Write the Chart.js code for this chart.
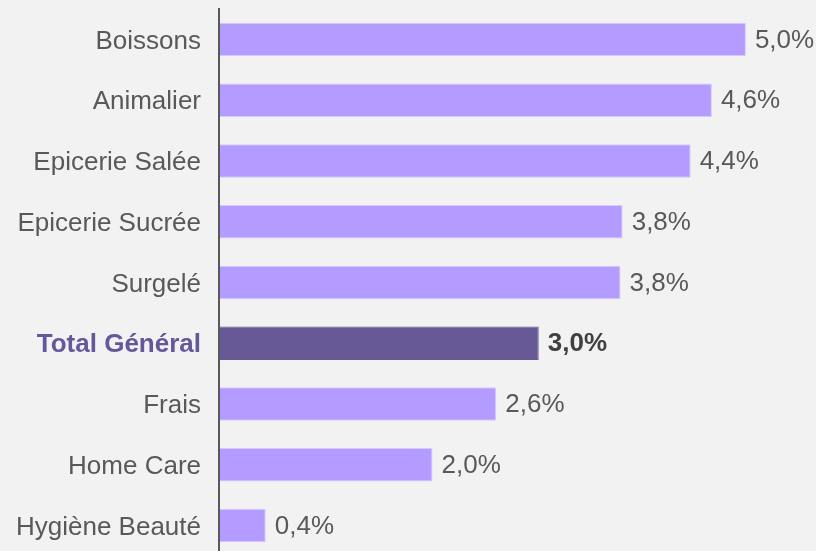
<!DOCTYPE html>
<html>
<head>
<meta charset="utf-8">
<script src="https://cdn.jsdelivr.net/npm/chart.js@4/dist/chart.umd.min.js"></script>
<style>
  html, body { margin: 0; padding: 0; background: #f2f2f2; overflow: hidden; }
  #wrap { width: 816px; height: 560px; }
</style>
</head>
<body>
<div id="wrap"><canvas id="barChart"></canvas></div>
<script>
// categories & values (share of growth, %)
const categories = ["Boissons", "Animalier", "Epicerie Salée", "Epicerie Sucrée", "Surgelé",
                    "Total Général", "Frais", "Home Care", "Hygiène Beauté"];
const growth = [4.96, 4.64, 4.44, 3.80, 3.78, 3.01, 2.61, 2.01, 0.44];
const totalLabel = "Total Général";

const LIGHT = '#b49bff';
const DARK = '#675896';
const TEXT = '#595959';

const isTotal = i => categories[i] === totalLabel;

// value labels at the end of each bar
const valueLabels = {
    id: 'valueLabels',
    afterDatasetsDraw(chart) {
        const ctx = chart.ctx;
        const meta = chart.getDatasetMeta(0);
        ctx.save();
        ctx.textAlign = 'left';
        ctx.textBaseline = 'middle';
        meta.data.forEach((bar, i) => {
            const txt = growth[i].toFixed(1).replace('.', ',') + '%';
            ctx.font = (isTotal(i) ? 'bold ' : '') + '26px "Liberation Sans", Arial, sans-serif';
            ctx.fillStyle = isTotal(i) ? '#404040' : TEXT;
            ctx.fillText(txt, bar.x + 9, bar.y + 1);
        });
        ctx.restore();
    }
};

const ctx1 = document.getElementById('barChart').getContext('2d');
const chart1 = new Chart(ctx1, {
    type: 'bar',
    data: {
        labels: categories,
        datasets: [{
            data: growth,
            backgroundColor: categories.map((c, i) => isTotal(i) ? DARK : LIGHT),
            borderColor: categories.map((c, i) => isTotal(i) ? DARK : '#d6cbff'),
            borderWidth: 1,
            categoryPercentage: 1,
            barPercentage: 0.551
        }]
    },
    options: {
        indexAxis: 'y',
        responsive: true,
        maintainAspectRatio: false,
        animation: false,
        layout: { padding: { top: 9, bottom: 4, left: 0, right: 0 } },
        plugins: { legend: { display: false }, tooltip: { enabled: false } },
        scales: {
            x: { display: false, min: 0, max: 5.62 },
            y: {
                afterFit: s => { s.width = 219; s.paddingTop = 0; s.paddingBottom = 0; },
                grid: { display: false, drawTicks: false },
                border: { display: true, color: '#595959', width: 2, z: 1 },
                ticks: {
                    padding: 18,
                    labelOffset: 2,
                    color: c => isTotal(c.index) ? '#65579a' : TEXT,
                    font: c => ({
                        family: '"Liberation Sans", Arial, sans-serif',
                        size: 26,
                        weight: isTotal(c.index) ? 'bold' : 'normal'
                    })
                }
            }
        }
    },
    plugins: [valueLabels]
});
</script>
</body>
</html>
